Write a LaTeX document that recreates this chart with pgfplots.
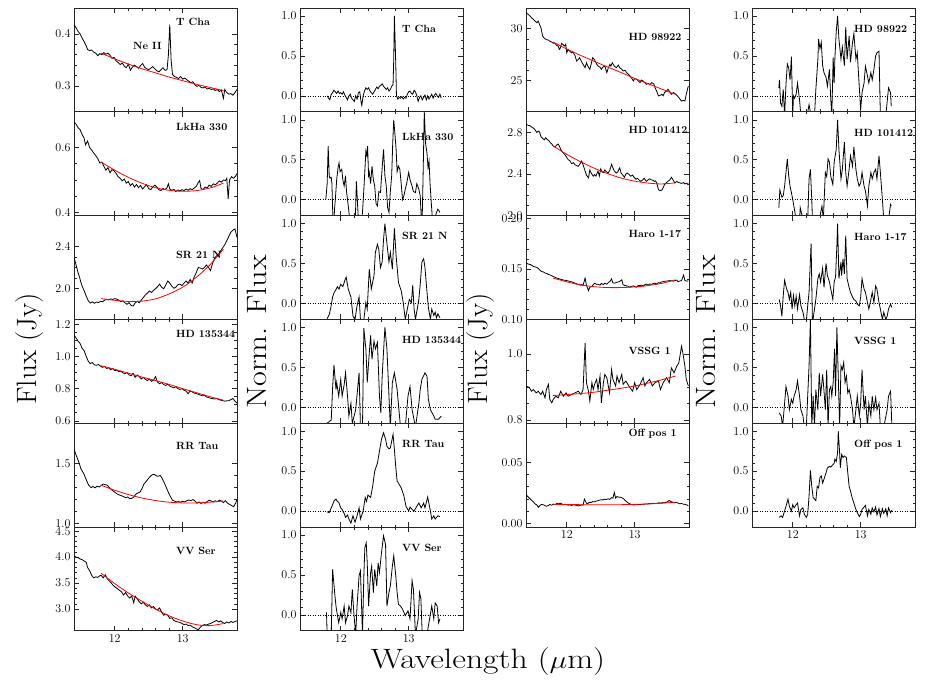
\documentclass[border=0pt]{standalone}
\usepackage{fontspec}
\usepackage{pgfplots}
\pgfplotsset{compat=1.18}
\pgfplotsset{
  panel/.style={
    scale only axis, width=163pt, height=103.8pt, anchor=north west,
    xmin=11.4, xmax=13.8, xtick={12,13}, minor x tick num=4,
    xticklabels={},
    tick align=inside,
    major tick length=5pt, minor tick length=2.5pt,
    axis line style={black!85, line width=0.8pt},
    every tick/.style={black!85, line width=0.55pt},
    tick label style={font=\fontsize{12}{13}\selectfont},
    yticklabel style={/pgf/number format/fixed, /pgf/number format/fixed zerofill, /pgf/number format/precision=1},
    scaled y ticks=false,
  },
  botx/.style={xticklabels={12,13}},
  norm/.style={panel, ymin=-0.2, ymax=1.1, ytick={0,0.5,1}, minor y tick num=4},
  spec/.style={black, line width=0.8pt, mark=none},
  fit/.style={red, line width=0.8pt, mark=none, smooth},
  zero/.style={black, dotted, line width=0.5pt},
}
\tikzset{lab/.style={anchor=west, font=\fontsize{10.5}{11}\selectfont\bfseries, inner sep=0pt}}
\newcommand{\titlefont}{\fontsize{28}{30}\selectfont}
\begin{document}
\begin{tikzpicture}
\path[use as bounding box] (0pt,0pt) rectangle (926pt,-686pt);

% ================= Column 1 =================
\begin{axis}[panel, at={(74pt,-8pt)}, ymin=0.25, ymax=0.45, ytick={0.3,0.4}, minor y tick num=4]
\addplot[spec] coordinates {(11.40,0.418) (11.43,0.412) (11.46,0.405) (11.49,0.400) (11.52,0.392) (11.55,0.385) (11.58,0.377) (11.60,0.370) (11.63,0.368) (11.66,0.369) (11.69,0.365) (11.72,0.363) (11.75,0.358) (11.78,0.362) (11.81,0.360) (11.84,0.364) (11.87,0.361) (11.90,0.363) (11.93,0.359) (11.96,0.353) (11.99,0.355) (12.02,0.348) (12.05,0.345) (12.08,0.341) (12.11,0.344) (12.14,0.338) (12.17,0.335) (12.20,0.342) (12.23,0.330) (12.26,0.336) (12.29,0.340) (12.32,0.337) (12.35,0.334) (12.38,0.339) (12.41,0.343) (12.44,0.336) (12.47,0.333) (12.50,0.331) (12.53,0.334) (12.56,0.337) (12.59,0.333) (12.62,0.329) (12.65,0.327) (12.68,0.331) (12.71,0.335) (12.74,0.330) (12.77,0.331) (12.79,0.360) (12.81,0.418) (12.83,0.350) (12.85,0.322) (12.88,0.318) (12.91,0.316) (12.94,0.314) (12.97,0.318) (13.00,0.313) (13.03,0.315) (13.06,0.312) (13.09,0.309) (13.12,0.306) (13.15,0.308) (13.18,0.302) (13.21,0.299) (13.24,0.301) (13.27,0.297) (13.30,0.296) (13.33,0.298) (13.36,0.294) (13.39,0.295) (13.42,0.293) (13.45,0.294) (13.48,0.291) (13.51,0.293) (13.54,0.289) (13.57,0.292) (13.60,0.276) (13.62,0.293) (13.65,0.287) (13.68,0.284) (13.71,0.285) (13.74,0.282) (13.77,0.287) (13.80,0.293)};
\addplot[fit] coordinates {(11.8,0.363) (12.0,0.352) (12.2,0.342) (12.4,0.333) (12.6,0.325) (12.8,0.317) (13.0,0.310) (13.2,0.303) (13.4,0.297) (13.6,0.291)};
\node[lab] at (rel axis cs:0.626,0.868) {T Cha};
\node[lab, anchor=center] at (axis cs:12.48,0.376) {Ne II};
\end{axis}

\begin{axis}[panel, at={(74pt,-111.8pt)}, ymin=0.39, ymax=0.71, ytick={0.4,0.6}, minor y tick num=3]
\addplot[spec] coordinates {(11.40,0.678) (11.43,0.672) (11.46,0.661) (11.49,0.655) (11.52,0.640) (11.55,0.628) (11.57,0.608) (11.60,0.620) (11.63,0.600) (11.66,0.592) (11.69,0.583) (11.72,0.575) (11.75,0.566) (11.78,0.552) (11.81,0.555) (11.84,0.542) (11.87,0.530) (11.90,0.538) (11.93,0.522) (11.96,0.532) (11.99,0.528) (12.02,0.520) (12.05,0.510) (12.08,0.505) (12.11,0.497) (12.14,0.503) (12.17,0.490) (12.20,0.495) (12.23,0.482) (12.26,0.489) (12.29,0.478) (12.32,0.486) (12.35,0.476) (12.38,0.483) (12.41,0.472) (12.44,0.479) (12.47,0.485) (12.50,0.473) (12.53,0.470) (12.56,0.478) (12.59,0.484) (12.62,0.478) (12.65,0.470) (12.68,0.467) (12.71,0.474) (12.74,0.470) (12.77,0.476) (12.79,0.488) (12.81,0.472) (12.84,0.468) (12.87,0.471) (12.90,0.464) (12.93,0.469) (12.96,0.466) (12.99,0.470) (13.02,0.467) (13.05,0.472) (13.08,0.468) (13.11,0.473) (13.14,0.470) (13.17,0.475) (13.20,0.480) (13.23,0.492) (13.25,0.498) (13.27,0.474) (13.30,0.470) (13.33,0.478) (13.36,0.475) (13.39,0.484) (13.42,0.480) (13.45,0.488) (13.48,0.485) (13.51,0.490) (13.54,0.497) (13.57,0.493) (13.60,0.500) (13.63,0.498) (13.65,0.505) (13.67,0.441) (13.69,0.500) (13.72,0.510) (13.75,0.505) (13.78,0.512) (13.80,0.520)};
\addplot[fit] coordinates {(11.8,0.555) (12.0,0.530) (12.2,0.508) (12.4,0.490) (12.6,0.476) (12.8,0.468) (13.0,0.465) (13.2,0.467) (13.4,0.475) (13.6,0.490)};
\node[lab] at (rel axis cs:0.626,0.855) {LkHa 330};
\end{axis}

\begin{axis}[panel, at={(74pt,-215.6pt)}, ymin=1.7, ymax=2.7, ytick={2.0,2.4}, minor y tick num=3]
\addplot[spec] coordinates {(11.40,2.297) (11.42,2.250) (11.44,2.200) (11.46,2.150) (11.48,2.110) (11.50,2.060) (11.52,2.020) (11.55,1.975) (11.58,1.925) (11.61,1.880) (11.64,1.858) (11.67,1.870) (11.70,1.855) (11.73,1.868) (11.76,1.862) (11.79,1.875) (11.82,1.870) (11.85,1.885) (11.88,1.893) (11.91,1.888) (11.94,1.898) (11.97,1.892) (12.00,1.900) (12.03,1.895) (12.06,1.885) (12.09,1.872) (12.12,1.878) (12.15,1.860) (12.18,1.845) (12.21,1.862) (12.24,1.835) (12.27,1.829) (12.30,1.858) (12.33,1.875) (12.36,1.860) (12.39,1.885) (12.42,1.910) (12.45,1.935) (12.48,1.952) (12.51,1.974) (12.54,1.960) (12.57,1.980) (12.60,1.995) (12.63,2.015) (12.66,2.040) (12.69,2.010) (12.72,1.995) (12.75,2.030) (12.78,2.070) (12.81,2.050) (12.84,2.020) (12.87,2.000) (12.90,2.010) (12.93,2.035) (12.96,2.040) (12.99,2.025) (13.02,2.050) (13.05,2.070) (13.08,2.050) (13.11,2.085) (13.14,2.050) (13.17,2.110) (13.20,2.150) (13.23,2.200) (13.26,2.195) (13.29,2.185) (13.32,2.200) (13.35,2.225) (13.38,2.200) (13.41,2.170) (13.44,2.240) (13.47,2.290) (13.50,2.313) (13.53,2.330) (13.56,2.360) (13.59,2.390) (13.62,2.420) (13.65,2.458) (13.68,2.500) (13.71,2.540) (13.74,2.560) (13.77,2.571) (13.80,2.490)};
\addplot[fit] coordinates {(11.8,1.900) (12.0,1.884) (12.2,1.873) (12.4,1.876) (12.6,1.898) (12.8,1.945) (13.0,2.010) (13.2,2.105) (13.4,2.225) (13.6,2.377)};
\node[lab] at (rel axis cs:0.626,0.626) {SR 21 N};
\end{axis}

\begin{axis}[panel, at={(74pt,-319.4pt)}, ymin=0.585, ymax=1.23, ytick={0.6,0.8,1.0,1.2}, minor y tick num=3]
\addplot[spec] coordinates {(11.40,1.134) (11.43,1.115) (11.46,1.095) (11.49,1.080) (11.52,1.050) (11.55,1.035) (11.58,1.000) (11.61,0.970) (11.64,0.955) (11.67,0.962) (11.70,0.948) (11.73,0.945) (11.76,0.950) (11.79,0.940) (11.82,0.932) (11.85,0.938) (11.88,0.925) (11.91,0.930) (11.94,0.918) (11.97,0.925) (12.00,0.912) (12.03,0.915) (12.06,0.905) (12.09,0.908) (12.12,0.898) (12.15,0.892) (12.18,0.900) (12.21,0.885) (12.24,0.880) (12.27,0.895) (12.30,0.870) (12.33,0.885) (12.36,0.875) (12.39,0.860) (12.42,0.870) (12.45,0.858) (12.48,0.850) (12.51,0.860) (12.54,0.845) (12.57,0.852) (12.60,0.875) (12.63,0.840) (12.66,0.830) (12.69,0.838) (12.72,0.825) (12.75,0.820) (12.78,0.828) (12.81,0.815) (12.84,0.810) (12.87,0.805) (12.90,0.812) (12.93,0.800) (12.96,0.795) (12.99,0.800) (13.02,0.790) (13.05,0.785) (13.08,0.768) (13.11,0.785) (13.14,0.780) (13.17,0.772) (13.20,0.770) (13.23,0.765) (13.26,0.760) (13.29,0.755) (13.32,0.760) (13.35,0.748) (13.38,0.745) (13.41,0.740) (13.44,0.738) (13.47,0.735) (13.50,0.740) (13.53,0.732) (13.56,0.728) (13.59,0.725) (13.62,0.722) (13.65,0.724) (13.68,0.725) (13.71,0.732) (13.74,0.738) (13.77,0.722) (13.80,0.710)};
\addplot[fit] coordinates {(11.8,0.942) (12.0,0.920) (12.2,0.896) (12.4,0.872) (12.6,0.850) (12.8,0.826) (13.0,0.800) (13.2,0.775) (13.4,0.750) (13.6,0.728)};
\node[lab] at (rel axis cs:0.626,0.86) {HD 135344};
\end{axis}

\begin{axis}[panel, at={(74pt,-423.2pt)}, ymin=0.97, ymax=1.84, ytick={1.0,1.5}, minor y tick num=4]
\addplot[spec] coordinates {(11.40,1.626) (11.42,1.590) (11.44,1.560) (11.46,1.530) (11.48,1.500) (11.50,1.460) (11.52,1.440) (11.55,1.410) (11.57,1.380) (11.60,1.340) (11.62,1.318) (11.65,1.300) (11.68,1.310) (11.71,1.298) (11.74,1.312) (11.77,1.305) (11.80,1.318) (11.83,1.330) (11.86,1.325) (11.89,1.320) (11.92,1.300) (11.95,1.285) (11.98,1.270) (12.01,1.258) (12.04,1.245) (12.07,1.238) (12.10,1.232) (12.13,1.225) (12.16,1.215) (12.19,1.222) (12.22,1.208) (12.25,1.210) (12.28,1.222) (12.31,1.245) (12.34,1.255) (12.37,1.262) (12.40,1.290) (12.43,1.330) (12.46,1.350) (12.49,1.372) (12.52,1.392) (12.55,1.408) (12.58,1.412) (12.61,1.400) (12.64,1.395) (12.67,1.402) (12.70,1.375) (12.73,1.340) (12.76,1.300) (12.79,1.260) (12.82,1.225) (12.85,1.195) (12.88,1.187) (12.91,1.180) (12.94,1.183) (12.97,1.178) (13.00,1.186) (13.03,1.180) (13.06,1.190) (13.09,1.196) (13.12,1.190) (13.15,1.200) (13.18,1.188) (13.21,1.170) (13.24,1.180) (13.27,1.168) (13.30,1.175) (13.33,1.170) (13.36,1.182) (13.39,1.195) (13.42,1.188) (13.45,1.180) (13.48,1.190) (13.51,1.182) (13.54,1.195) (13.57,1.188) (13.60,1.175) (13.63,1.190) (13.66,1.170) (13.69,1.160) (13.72,1.150) (13.75,1.140) (13.78,1.170) (13.80,1.200)};
\addplot[fit] coordinates {(11.8,1.320) (12.0,1.278) (12.2,1.242) (12.4,1.213) (12.6,1.192) (12.8,1.178) (13.0,1.172) (13.2,1.172) (13.4,1.178) (13.6,1.188)};
\node[lab] at (rel axis cs:0.626,0.78) {RR Tau};
\end{axis}

\begin{axis}[panel, botx, at={(74pt,-527pt)}, ymin=2.58, ymax=4.58, ytick={3.0,3.5,4.0,4.5}, minor y tick num=4]
\addplot[spec] coordinates {(11.40,4.025) (11.43,4.000) (11.46,3.990) (11.49,3.965) (11.52,3.950) (11.55,3.925) (11.58,3.900) (11.60,3.800) (11.63,3.740) (11.66,3.650) (11.69,3.600) (11.72,3.620) (11.75,3.610) (11.78,3.640) (11.80,3.650) (11.83,3.600) (11.86,3.660) (11.89,3.580) (11.92,3.540) (11.95,3.500) (11.98,3.450) (12.01,3.420) (12.04,3.390) (12.07,3.360) (12.10,3.330) (12.13,3.270) (12.16,3.320) (12.19,3.250) (12.22,3.210) (12.25,3.250) (12.28,3.120) (12.30,3.250) (12.33,3.200) (12.36,3.140) (12.39,3.100) (12.42,3.130) (12.45,3.080) (12.48,3.050) (12.51,3.080) (12.54,3.020) (12.57,3.050) (12.60,3.000) (12.63,2.980) (12.66,3.020) (12.69,2.940) (12.72,2.880) (12.75,2.900) (12.78,2.880) (12.81,2.820) (12.84,2.830) (12.87,2.780) (12.90,2.760) (12.93,2.750) (12.96,2.740) (12.99,2.720) (13.02,2.700) (13.05,2.710) (13.08,2.680) (13.11,2.690) (13.14,2.660) (13.17,2.640) (13.20,2.620) (13.23,2.600) (13.26,2.650) (13.29,2.680) (13.32,2.700) (13.35,2.690) (13.38,2.710) (13.41,2.720) (13.44,2.740) (13.47,2.760) (13.50,2.780) (13.53,2.750) (13.56,2.770) (13.59,2.740) (13.62,2.720) (13.65,2.750) (13.68,2.730) (13.71,2.760) (13.74,2.740) (13.77,2.760) (13.80,2.770)};
\addplot[fit] coordinates {(11.8,3.690) (12.0,3.490) (12.2,3.310) (12.4,3.150) (12.6,3.000) (12.8,2.870) (13.0,2.770) (13.2,2.700) (13.4,2.680) (13.6,2.720)};
\node[lab] at (rel axis cs:0.626,0.769) {VV Ser};
\end{axis}

% ================= Column 2 =================
\begin{axis}[norm, at={(300pt,-8pt)}]
\addplot[zero] coordinates {(11.4,0) (13.8,0)};
\addplot[spec] coordinates {(11.80,0.00) (11.82,-0.03) (11.84,-0.05) (11.86,0.02) (11.88,0.04) (11.90,0.07) (11.92,0.05) (11.94,0.03) (11.96,0.06) (11.98,0.03) (12.00,0.04) (12.02,0.02) (12.04,0.05) (12.06,0.01) (12.08,-0.02) (12.10,-0.05) (12.12,0.00) (12.14,0.02) (12.16,-0.03) (12.18,-0.05) (12.20,-0.07) (12.22,0.00) (12.24,-0.04) (12.26,0.04) (12.28,0.05) (12.30,-0.08) (12.31,-0.12) (12.33,0.00) (12.35,0.06) (12.37,0.10) (12.39,0.08) (12.41,0.10) (12.43,0.06) (12.45,0.04) (12.47,0.02) (12.49,0.05) (12.51,0.08) (12.53,0.11) (12.55,0.09) (12.57,0.12) (12.59,0.13) (12.61,0.15) (12.63,0.12) (12.65,0.10) (12.67,0.08) (12.69,0.10) (12.71,0.06) (12.73,0.08) (12.75,0.12) (12.77,0.14) (12.78,0.45) (12.79,1.00) (12.81,0.40) (12.82,0.00) (12.84,-0.04) (12.86,-0.02) (12.88,-0.03) (12.90,-0.01) (12.92,-0.04) (12.94,-0.02) (12.96,-0.03) (12.98,0.02) (13.00,0.05) (13.02,0.06) (13.04,0.03) (13.06,0.02) (13.08,0.07) (13.10,0.05) (13.12,0.00) (13.14,-0.07) (13.16,-0.02) (13.18,0.00) (13.20,-0.05) (13.22,-0.02) (13.24,0.01) (13.26,-0.05) (13.28,0.00) (13.30,-0.04) (13.32,-0.01) (13.34,0.02) (13.36,-0.03) (13.38,0.01) (13.40,0.03) (13.42,0.00) (13.44,-0.02) (13.46,0.02) (13.48,-0.03)};
\node[lab] at (rel axis cs:0.626,0.80) {T Cha};
\end{axis}

\begin{axis}[norm, at={(300pt,-111.8pt)}]
\addplot[zero] coordinates {(11.4,0) (13.8,0)};
\addplot[spec] coordinates {(11.78,0.00) (11.80,0.20) (11.815,0.67) (11.83,0.30) (11.84,0.27) (11.86,0.28) (11.87,0.20) (11.89,-0.40) (11.91,-0.10) (11.92,0.00) (11.94,0.25) (11.96,0.40) (11.975,0.46) (11.99,0.35) (12.015,0.38) (12.03,0.25) (12.05,0.17) (12.07,0.30) (12.085,0.10) (12.10,0.00) (12.12,-0.15) (12.15,-0.40) (12.18,-0.30) (12.21,-0.40) (12.23,0.23) (12.25,-0.10) (12.27,-0.40) (12.30,-0.35) (12.32,-0.16) (12.345,0.20) (12.37,0.61) (12.385,0.55) (12.395,0.67) (12.41,0.30) (12.42,0.34) (12.44,0.20) (12.46,0.42) (12.48,0.25) (12.50,0.17) (12.52,-0.05) (12.54,-0.08) (12.56,0.10) (12.585,0.09) (12.61,0.40) (12.63,0.63) (12.65,0.30) (12.67,0.17) (12.69,-0.10) (12.71,-0.16) (12.73,0.10) (12.75,0.30) (12.765,0.70) (12.78,1.00) (12.80,0.80) (12.815,0.63) (12.83,0.35) (12.85,0.42) (12.87,0.38) (12.89,0.20) (12.91,0.00) (12.93,0.05) (12.95,0.13) (12.97,0.20) (13.00,0.34) (13.02,0.25) (13.05,0.17) (13.07,0.10) (13.10,0.09) (13.12,0.20) (13.15,0.13) (13.17,0.05) (13.195,-0.40) (13.21,0.20) (13.23,1.10) (13.25,0.70) (13.27,0.58) (13.285,0.40) (13.30,0.48) (13.315,0.20) (13.33,0.00) (13.35,-0.25) (13.37,-0.40) (13.39,-0.22) (13.41,-0.16) (13.43,-0.12) (13.44,-0.13) (13.46,-0.16)};
\node[lab] at (rel axis cs:0.626,0.762) {LkHa 330};
\end{axis}

\begin{axis}[norm, at={(300pt,-215.6pt)}]
\addplot[zero] coordinates {(11.4,0) (13.8,0)};
\addplot[spec] coordinates {(11.80,-0.19) (11.83,-0.14) (11.85,-0.07) (11.88,0.08) (11.90,0.13) (11.92,0.16) (11.94,0.19) (11.95,0.21) (11.975,0.18) (12.00,0.24) (12.02,0.22) (12.03,0.21) (12.05,0.26) (12.06,0.29) (12.08,0.33) (12.11,0.18) (12.15,0.08) (12.18,-0.16) (12.21,-0.20) (12.24,-0.03) (12.27,0.08) (12.29,-0.20) (12.32,-0.25) (12.34,-0.20) (12.37,0.01) (12.39,-0.07) (12.42,0.43) (12.45,0.18) (12.49,0.35) (12.51,0.64) (12.54,0.74) (12.56,0.68) (12.585,0.45) (12.61,0.52) (12.63,0.80) (12.65,1.00) (12.68,0.75) (12.71,0.52) (12.73,0.64) (12.76,0.43) (12.79,0.94) (12.815,0.60) (12.85,0.26) (12.89,0.16) (12.92,0.01) (12.95,-0.20) (12.99,-0.03) (13.01,0.05) (13.04,0.01) (13.06,0.23) (13.08,-0.07) (13.10,-0.20) (13.13,-0.05) (13.15,0.05) (13.17,0.24) (13.195,0.52) (13.22,0.56) (13.24,0.45) (13.27,0.14) (13.29,-0.05) (13.32,-0.20) (13.34,-0.07) (13.37,-0.15) (13.39,-0.11) (13.41,-0.18) (13.43,-0.13) (13.46,-0.18)};
\node[lab] at (rel axis cs:0.626,0.80) {SR 21 N};
\end{axis}

\begin{axis}[norm, at={(300pt,-319.4pt)}]
\addplot[zero] coordinates {(11.4,0) (13.8,0)};
\addplot[spec] coordinates {(11.80,-0.20) (11.86,-0.16) (11.88,0.24) (11.90,0.53) (11.93,0.22) (11.94,0.31) (11.97,0.14) (12.00,0.35) (12.02,0.14) (12.05,0.28) (12.07,0.43) (12.10,0.14) (12.12,-0.11) (12.15,0.05) (12.17,-0.20) (12.22,-0.03) (12.27,0.43) (12.29,-0.25) (12.32,-0.25) (12.34,0.99) (12.37,0.73) (12.39,0.31) (12.42,0.68) (12.44,0.90) (12.46,0.60) (12.49,0.83) (12.51,0.73) (12.54,0.81) (12.57,0.14) (12.59,-0.07) (12.61,0.39) (12.65,1.00) (12.68,0.73) (12.71,0.14) (12.73,-0.25) (12.76,0.31) (12.79,0.43) (12.83,0.22) (12.88,-0.25) (12.95,-0.25) (12.99,0.14) (13.02,0.26) (13.05,-0.03) (13.10,-0.25) (13.15,0.05) (13.17,0.22) (13.195,0.35) (13.24,0.43) (13.27,0.39) (13.29,0.10) (13.32,-0.03) (13.37,-0.11) (13.39,-0.15) (13.44,-0.15) (13.48,-0.11)};
\node[lab] at (rel axis cs:0.626,0.80) {HD 135344};
\end{axis}

\begin{axis}[norm, at={(300pt,-423.2pt)}]
\addplot[zero] coordinates {(11.4,0) (13.8,0)};
\addplot[spec] coordinates {(11.80,-0.01) (11.83,-0.02) (11.85,0.02) (11.88,0.08) (11.90,0.125) (11.93,0.15) (11.95,0.12) (11.97,0.11) (12.00,0.04) (12.02,0.02) (12.05,-0.03) (12.07,-0.08) (12.10,-0.05) (12.12,-0.10) (12.15,-0.15) (12.18,-0.06) (12.21,-0.14) (12.24,-0.06) (12.27,0.04) (12.29,-0.10) (12.33,0.00) (12.36,0.17) (12.38,0.12) (12.40,0.20) (12.44,0.17) (12.47,0.31) (12.50,0.50) (12.54,0.60) (12.57,0.75) (12.60,0.90) (12.63,0.98) (12.66,0.90) (12.68,0.81) (12.71,0.78) (12.73,0.79) (12.77,0.96) (12.79,0.77) (12.81,0.55) (12.83,0.375) (12.85,0.35) (12.89,0.29) (12.93,0.19) (12.96,0.06) (13.00,0.00) (13.02,0.05) (13.05,0.02) (13.08,0.00) (13.12,0.06) (13.15,0.10) (13.185,0.04) (13.22,0.10) (13.24,0.04) (13.28,0.175) (13.32,0.00) (13.34,-0.10) (13.37,-0.06) (13.39,-0.10) (13.43,-0.06) (13.46,-0.07)};
\node[lab] at (rel axis cs:0.626,0.80) {RR Tau};
\end{axis}

\begin{axis}[norm, botx, at={(300pt,-527pt)}]
\addplot[zero] coordinates {(11.4,0) (13.8,0)};
\addplot[spec] coordinates {(11.79,0.03) (11.80,-0.25) (11.86,-0.25) (11.88,0.57) (11.91,0.28) (11.93,0.11) (11.94,0.05) (11.97,-0.10) (12.00,0.03) (12.02,-0.05) (12.05,0.11) (12.07,-0.10) (12.10,-0.01) (12.12,0.11) (12.15,0.03) (12.17,0.32) (12.195,0.00) (12.22,-0.25) (12.24,0.11) (12.27,0.49) (12.29,0.55) (12.32,-0.25) (12.34,0.49) (12.355,0.84) (12.375,0.90) (12.39,0.65) (12.41,0.11) (12.44,0.53) (12.455,0.61) (12.48,0.28) (12.50,0.57) (12.53,0.36) (12.55,0.65) (12.57,0.53) (12.60,0.78) (12.63,0.99) (12.66,0.88) (12.68,0.11) (12.71,0.28) (12.73,0.36) (12.76,0.61) (12.78,0.74) (12.81,0.49) (12.83,0.28) (12.85,0.13) (12.88,0.11) (12.91,0.07) (12.95,-0.01) (12.99,0.05) (13.02,-0.05) (13.05,0.43) (13.07,0.32) (13.10,-0.25) (13.14,-0.05) (13.16,0.28) (13.18,0.20) (13.20,-0.25) (13.27,-0.25) (13.29,-0.14) (13.34,0.11) (13.37,-0.05) (13.39,0.15) (13.42,0.11) (13.44,-0.10) (13.46,-0.05)};
\node[lab] at (rel axis cs:0.626,0.80) {VV Ser};
\end{axis}

% ================= Column 3 =================
\begin{axis}[panel, at={(526pt,-8pt)}, ymin=22, ymax=32, ytick={25,30}, minor y tick num=4, yticklabel style={/pgf/number format/precision=0}]
\addplot[spec] coordinates {(11.40,31.54) (11.43,31.40) (11.46,31.22) (11.49,31.00) (11.51,30.90) (11.54,30.70) (11.56,30.58) (11.58,30.74) (11.60,30.40) (11.62,30.10) (11.645,29.30) (11.66,29.15) (11.68,29.04) (11.70,28.95) (11.73,28.91) (11.75,28.80) (11.78,28.72) (11.80,28.62) (11.83,28.59) (11.85,28.40) (11.875,28.33) (11.89,28.01) (11.90,28.05) (11.925,28.59) (11.95,28.45) (11.97,28.33) (11.985,28.50) (12.00,27.69) (12.02,28.01) (12.05,27.80) (12.07,27.69) (12.09,27.75) (12.12,27.44) (12.145,26.89) (12.17,27.05) (12.19,27.21) (12.22,26.80) (12.24,26.57) (12.27,26.25) (12.29,26.73) (12.31,26.40) (12.34,26.09) (12.36,26.60) (12.38,27.21) (12.40,27.10) (12.41,26.99) (12.44,26.60) (12.46,26.41) (12.49,26.30) (12.51,26.09) (12.53,26.30) (12.56,26.41) (12.59,25.77) (12.61,26.20) (12.635,26.57) (12.65,26.40) (12.67,26.73) (12.70,26.40) (12.73,26.25) (12.76,26.50) (12.78,26.25) (12.81,26.10) (12.83,25.93) (12.86,26.00) (12.88,25.77) (12.91,25.60) (12.93,25.45) (12.96,25.20) (12.98,24.97) (13.00,25.20) (13.03,25.13) (13.05,25.00) (13.08,24.81) (13.10,25.05) (13.125,24.97) (13.15,24.80) (13.175,24.65) (13.20,24.75) (13.225,24.60) (13.25,24.81) (13.28,24.70) (13.30,24.33) (13.33,23.90) (13.35,23.53) (13.38,23.60) (13.40,23.69) (13.42,23.55) (13.44,23.85) (13.47,24.00) (13.49,24.17) (13.52,23.90) (13.54,23.69) (13.57,23.85) (13.59,23.77) (13.62,23.60) (13.64,23.45) (13.67,23.20) (13.69,23.04) (13.72,23.10) (13.74,23.04) (13.76,23.69) (13.79,24.49)};
\addplot[fit] coordinates {(11.8,28.72) (12.0,28.05) (12.2,27.45) (12.4,26.88) (12.6,26.32) (12.8,25.78) (13.0,25.22) (13.2,24.70) (13.4,24.18) (13.6,23.68)};
\node[lab] at (rel axis cs:0.628,0.724) {HD 98922};
\end{axis}

\begin{axis}[panel, at={(526pt,-111.8pt)}, ymin=2.0, ymax=3.0, ytick={2.0,2.4,2.8}, minor y tick num=3]
\addplot[spec] coordinates {(11.40,2.881) (11.43,2.870) (11.46,2.865) (11.49,2.850) (11.52,2.838) (11.54,2.820) (11.56,2.800) (11.58,2.815) (11.60,2.805) (11.62,2.760) (11.65,2.740) (11.67,2.730) (11.69,2.750) (11.71,2.735) (11.74,2.720) (11.76,2.700) (11.78,2.690) (11.80,2.671) (11.83,2.660) (11.85,2.680) (11.875,2.690) (11.89,2.671) (11.91,2.640) (11.94,2.610) (11.97,2.590) (12.00,2.560) (12.02,2.540) (12.05,2.526) (12.07,2.500) (12.10,2.510) (12.12,2.490) (12.15,2.480) (12.17,2.475) (12.20,2.505) (12.22,2.526) (12.245,2.480) (12.27,2.430) (12.29,2.390) (12.32,2.364) (12.34,2.440) (12.36,2.410) (12.39,2.380) (12.41,2.395) (12.43,2.380) (12.46,2.430) (12.48,2.380) (12.50,2.450) (12.52,2.420) (12.54,2.415) (12.56,2.440) (12.58,2.425) (12.61,2.410) (12.635,2.440) (12.66,2.494) (12.68,2.460) (12.70,2.430) (12.73,2.410) (12.75,2.420) (12.78,2.460) (12.80,2.410) (12.82,2.395) (12.85,2.370) (12.87,2.400) (12.89,2.410) (12.92,2.395) (12.94,2.380) (12.97,2.390) (12.99,2.370) (13.02,2.350) (13.04,2.360) (13.07,2.340) (13.09,2.330) (13.12,2.345) (13.14,2.360) (13.17,2.330) (13.19,2.340) (13.22,2.355) (13.24,2.345) (13.27,2.340) (13.29,2.330) (13.31,2.335) (13.33,2.300) (13.35,2.252) (13.37,2.240) (13.40,2.245) (13.42,2.270) (13.44,2.300) (13.47,2.320) (13.49,2.330) (13.52,2.345) (13.54,2.370) (13.57,2.340) (13.59,2.315) (13.62,2.330) (13.64,2.320) (13.67,2.315) (13.69,2.310) (13.72,2.318) (13.74,2.305) (13.77,2.312) (13.79,2.310)};
\addplot[fit] coordinates {(11.8,2.672) (12.0,2.590) (12.2,2.520) (12.4,2.458) (12.6,2.405) (12.8,2.362) (13.0,2.332) (13.2,2.313) (13.4,2.305) (13.6,2.316)};
\node[lab] at (rel axis cs:0.628,0.822) {HD 101412};
\end{axis}

\begin{axis}[panel, at={(526pt,-215.6pt)}, ymin=0.10, ymax=0.203, ytick={0.10,0.15,0.20}, minor y tick num=4, yticklabel style={/pgf/number format/precision=2}]
\addplot[spec] coordinates {(11.40,0.1560) (11.43,0.1550) (11.46,0.1545) (11.49,0.1535) (11.51,0.1525) (11.54,0.1520) (11.56,0.1515) (11.59,0.1500) (11.61,0.1485) (11.63,0.1475) (11.66,0.1470) (11.68,0.1460) (11.71,0.1455) (11.73,0.1445) (11.76,0.1440) (11.78,0.1433) (11.80,0.1425) (11.83,0.1418) (11.85,0.1410) (11.88,0.1405) (11.90,0.1400) (11.93,0.1395) (11.95,0.1390) (11.98,0.1388) (12.00,0.1385) (12.03,0.1380) (12.05,0.1375) (12.08,0.1372) (12.10,0.1365) (12.12,0.1360) (12.15,0.1352) (12.17,0.1348) (12.20,0.1340) (12.22,0.1345) (12.24,0.1338) (12.27,0.1410) (12.29,0.1340) (12.32,0.1285) (12.34,0.1320) (12.37,0.1327) (12.39,0.1345) (12.41,0.1360) (12.44,0.1348) (12.46,0.1350) (12.49,0.1340) (12.51,0.1357) (12.54,0.1345) (12.56,0.1360) (12.59,0.1350) (12.61,0.1365) (12.64,0.1380) (12.66,0.1403) (12.68,0.1362) (12.71,0.1360) (12.73,0.1367) (12.76,0.1372) (12.78,0.1377) (12.81,0.1393) (12.83,0.1343) (12.85,0.1338) (12.88,0.1333) (12.90,0.1330) (12.93,0.1320) (12.95,0.1328) (12.98,0.1333) (13.00,0.1325) (13.03,0.1320) (13.05,0.1335) (13.08,0.1335) (13.10,0.1340) (13.13,0.1332) (13.15,0.1345) (13.17,0.1350) (13.20,0.1340) (13.22,0.1352) (13.25,0.1348) (13.27,0.1355) (13.30,0.1360) (13.32,0.1350) (13.35,0.1365) (13.37,0.1360) (13.39,0.1370) (13.42,0.1375) (13.44,0.1378) (13.47,0.1380) (13.49,0.1382) (13.52,0.1385) (13.54,0.1383) (13.57,0.1380) (13.59,0.1385) (13.62,0.1390) (13.64,0.1375) (13.67,0.1382) (13.69,0.1385) (13.72,0.1440) (13.74,0.1385) (13.77,0.1380) (13.79,0.1383)};
\addplot[fit] coordinates {(11.8,0.1410) (12.0,0.1373) (12.2,0.1343) (12.4,0.1325) (12.6,0.1316) (12.8,0.1316) (13.0,0.1322) (13.2,0.1336) (13.4,0.1358) (13.6,0.1393)};
\node[lab] at (rel axis cs:0.628,0.822) {Haro 1-17};
\end{axis}

\begin{axis}[panel, at={(526pt,-319.4pt)}, ymin=0.79, ymax=1.105, ytick={0.8,1.0}, minor y tick num=3]
\addplot[spec] coordinates {(11.40,0.903) (11.45,0.898) (11.48,0.887) (11.51,0.892) (11.55,0.882) (11.58,0.887) (11.62,0.877) (11.645,0.887) (11.68,0.867) (11.70,0.892) (11.73,0.908) (11.75,0.862) (11.78,0.852) (11.80,0.862) (11.84,0.872) (11.875,0.867) (11.91,0.887) (11.95,0.872) (11.99,0.882) (12.02,0.872) (12.07,0.877) (12.12,0.882) (12.17,0.887) (12.21,0.877) (12.24,0.892) (12.27,1.033) (12.29,0.913) (12.32,0.887) (12.34,0.857) (12.37,0.913) (12.39,0.892) (12.41,0.908) (12.44,0.923) (12.46,0.892) (12.49,0.933) (12.51,0.852) (12.54,0.913) (12.56,0.938) (12.59,0.928) (12.63,0.882) (12.66,0.953) (12.68,0.923) (12.72,0.903) (12.74,0.933) (12.77,0.913) (12.81,0.938) (12.83,0.908) (12.87,0.918) (12.90,0.908) (12.93,0.898) (12.97,0.887) (13.00,0.913) (13.03,0.892) (13.08,0.908) (13.125,0.928) (13.15,0.903) (13.175,0.913) (13.22,0.923) (13.26,0.903) (13.30,0.913) (13.35,0.918) (13.38,0.892) (13.42,0.913) (13.47,0.928) (13.51,0.913) (13.54,0.958) (13.58,0.943) (13.62,0.963) (13.65,0.973) (13.69,1.023) (13.71,1.003) (13.74,0.963) (13.76,0.923) (13.79,0.903)};
\addplot[fit] coordinates {(11.8,0.874) (12.0,0.877) (12.2,0.880) (12.4,0.884) (12.6,0.890) (12.8,0.896) (13.0,0.903) (13.2,0.912) (13.4,0.922) (13.6,0.933)};
\node[lab] at (rel axis cs:0.628,0.692) {VSSG 1};
\end{axis}

\begin{axis}[panel, botx, at={(526pt,-423.2pt)}, ymin=-0.003, ymax=0.082, ytick={0,0.05}, minor y tick num=4, yticklabel style={/pgf/number format/precision=2}]
\addplot[spec] coordinates {(11.40,0.0234) (11.45,0.0206) (11.48,0.0190) (11.51,0.0176) (11.53,0.0160) (11.56,0.0151) (11.58,0.0132) (11.61,0.0148) (11.63,0.0155) (11.66,0.0151) (11.68,0.0145) (11.70,0.0140) (11.73,0.0146) (11.75,0.0154) (11.78,0.0148) (11.80,0.0158) (11.83,0.0154) (11.85,0.0162) (11.88,0.0160) (11.90,0.0165) (11.93,0.0159) (11.95,0.0152) (11.97,0.0156) (12.00,0.0154) (12.02,0.0149) (12.05,0.0151) (12.07,0.0146) (12.10,0.0153) (12.12,0.0150) (12.14,0.0148) (12.17,0.0143) (12.19,0.0146) (12.22,0.0151) (12.24,0.0149) (12.26,0.0198) (12.29,0.0165) (12.31,0.0162) (12.33,0.0172) (12.36,0.0170) (12.38,0.0178) (12.41,0.0176) (12.43,0.0182) (12.46,0.0185) (12.48,0.0190) (12.51,0.0193) (12.53,0.0192) (12.56,0.0198) (12.58,0.0195) (12.61,0.0201) (12.63,0.0196) (12.66,0.0210) (12.68,0.0206) (12.70,0.0253) (12.72,0.0206) (12.74,0.0220) (12.76,0.0215) (12.79,0.0214) (12.81,0.0210) (12.84,0.0200) (12.86,0.0187) (12.89,0.0173) (12.91,0.0165) (12.94,0.0157) (12.96,0.0152) (12.99,0.0151) (13.01,0.0153) (13.04,0.0152) (13.06,0.0155) (13.09,0.0153) (13.11,0.0157) (13.14,0.0156) (13.16,0.0159) (13.19,0.0158) (13.21,0.0162) (13.24,0.0160) (13.26,0.0163) (13.29,0.0165) (13.31,0.0162) (13.34,0.0166) (13.36,0.0168) (13.39,0.0165) (13.41,0.0170) (13.44,0.0168) (13.46,0.0172) (13.48,0.0176) (13.51,0.0187) (13.53,0.0180) (13.56,0.0173) (13.59,0.0168) (13.61,0.0172) (13.64,0.0166) (13.66,0.0160) (13.69,0.0163) (13.71,0.0158) (13.74,0.0155) (13.77,0.0151) (13.79,0.0143)};
\addplot[fit] coordinates {(11.8,0.0155) (12.0,0.0154) (12.2,0.0153) (12.4,0.0152) (12.6,0.0152) (12.8,0.0153) (13.0,0.0155) (13.2,0.0159) (13.4,0.0165) (13.6,0.0173)};
\node[lab] at (rel axis cs:0.628,0.897) {Off pos 1};
\end{axis}

% ================= Column 4 =================
\begin{axis}[norm, at={(752pt,-8pt)}]
\addplot[zero] coordinates {(11.4,0) (13.8,0)};
\addplot[spec] coordinates {(11.795,0.10) (11.805,0.20) (11.82,-0.09) (11.84,-0.13) (11.86,0.08) (11.88,-0.25) (11.90,0.14) (11.92,0.40) (11.94,0.35) (11.96,0.20) (11.98,0.49) (12.00,-0.25) (12.01,0.00) (12.025,-0.03) (12.05,0.02) (12.07,0.16) (12.10,-0.05) (12.12,-0.25) (12.20,-0.30) (12.24,-0.11) (12.27,-0.25) (12.32,-0.25) (12.34,0.08) (12.37,0.46) (12.38,0.71) (12.40,0.59) (12.42,0.67) (12.44,0.38) (12.46,0.29) (12.49,0.23) (12.51,0.12) (12.54,0.33) (12.56,-0.05) (12.575,-0.25) (12.595,0.48) (12.61,0.16) (12.62,0.46) (12.64,0.80) (12.66,1.00) (12.68,0.71) (12.71,0.46) (12.73,0.61) (12.76,0.38) (12.78,0.86) (12.80,0.46) (12.83,0.75) (12.85,0.42) (12.88,0.67) (12.90,0.78) (12.93,0.46) (12.95,0.54) (12.976,0.16) (13.00,-0.17) (13.02,0.04) (13.05,0.16) (13.07,0.37) (13.10,0.25) (13.12,0.16) (13.15,0.29) (13.17,0.20) (13.195,0.33) (13.22,0.50) (13.24,0.54) (13.27,0.56) (13.29,-0.25) (13.37,-0.25) (13.41,0.10) (13.44,0.04) (13.45,-0.13)};
\node[lab] at (rel axis cs:0.626,0.795) {HD 98922};
\end{axis}

\begin{axis}[norm, at={(752pt,-111.8pt)}]
\addplot[zero] coordinates {(11.4,0) (13.8,0)};
\addplot[spec] coordinates {(11.795,-0.10) (11.81,0.12) (11.84,0.03) (11.86,0.05) (11.88,0.17) (11.90,0.34) (11.92,0.51) (11.94,0.30) (11.96,0.17) (11.98,0.09) (12.00,0.00) (12.02,-0.10) (12.05,-0.25) (12.10,-0.25) (12.11,-0.10) (12.15,-0.25) (12.22,-0.25) (12.24,0.26) (12.26,0.38) (12.28,0.00) (12.29,-0.25) (12.39,-0.25) (12.43,-0.08) (12.45,-0.25) (12.48,0.34) (12.50,0.29) (12.52,0.51) (12.54,0.47) (12.56,0.29) (12.59,0.19) (12.61,0.47) (12.64,0.63) (12.66,1.00) (12.68,0.63) (12.71,0.26) (12.73,0.38) (12.76,0.72) (12.78,0.34) (12.80,0.17) (12.83,0.38) (12.85,0.55) (12.88,0.42) (12.90,0.66) (12.93,0.38) (12.95,0.26) (12.976,0.17) (13.00,0.21) (13.02,0.34) (13.05,0.17) (13.07,0.11) (13.10,-0.08) (13.12,0.17) (13.15,0.34) (13.17,0.26) (13.195,0.34) (13.22,0.38) (13.24,0.26) (13.27,0.55) (13.29,0.34) (13.32,0.00) (13.34,-0.25) (13.41,-0.25) (13.44,-0.06) (13.45,-0.08)};
\node[lab] at (rel axis cs:0.626,0.795) {HD 101412};
\end{axis}

\begin{axis}[norm, at={(752pt,-215.6pt)}]
\addplot[zero] coordinates {(11.4,0) (13.8,0)};
\addplot[spec] coordinates {(11.80,0.05) (11.82,-0.03) (11.84,-0.16) (11.86,0.10) (11.88,0.29) (11.91,0.18) (11.93,0.14) (11.95,0.05) (11.97,0.14) (11.99,-0.07) (12.01,0.10) (12.03,-0.03) (12.05,0.09) (12.07,-0.07) (12.10,0.11) (12.12,-0.03) (12.15,-0.11) (12.17,-0.20) (12.20,-0.22) (12.22,-0.03) (12.24,0.14) (12.27,0.75) (12.29,-0.25) (12.32,-0.07) (12.34,0.05) (12.37,0.31) (12.39,0.37) (12.41,0.27) (12.44,0.44) (12.46,0.20) (12.49,0.50) (12.51,0.35) (12.54,0.27) (12.56,0.18) (12.59,0.05) (12.61,0.27) (12.63,0.33) (12.65,0.73) (12.66,1.00) (12.68,0.31) (12.71,0.52) (12.72,0.35) (12.74,0.56) (12.76,0.37) (12.78,0.85) (12.80,0.31) (12.83,0.20) (12.85,0.14) (12.88,0.08) (12.90,0.05) (12.93,0.03) (12.95,-0.01) (12.98,-0.03) (13.00,0.08) (13.02,0.31) (13.05,0.18) (13.07,0.14) (13.10,0.01) (13.12,-0.07) (13.15,0.05) (13.17,0.14) (13.195,0.01) (13.22,0.22) (13.24,0.18) (13.27,0.01) (13.29,-0.07) (13.32,-0.20) (13.34,-0.11) (13.37,-0.20) (13.39,-0.16) (13.41,-0.07) (13.44,-0.01) (13.46,-0.05)};
\node[lab] at (rel axis cs:0.626,0.795) {Haro 1-17};
\end{axis}

\begin{axis}[norm, at={(752pt,-319.4pt)}]
\addplot[zero] coordinates {(11.4,0) (13.8,0)};
\addplot[spec] coordinates {(11.80,-0.07) (11.83,-0.11) (11.85,-0.25) (11.88,0.05) (11.90,0.26) (11.93,0.14) (11.95,-0.03) (11.98,0.10) (12.00,0.05) (12.02,0.14) (12.05,0.22) (12.07,0.33) (12.10,0.14) (12.12,-0.03) (12.15,-0.11) (12.17,-0.25) (12.20,-0.25) (12.22,0.14) (12.24,0.52) (12.26,1.10) (12.28,-0.25) (12.30,0.14) (12.32,-0.25) (12.34,0.22) (12.37,-0.03) (12.39,0.43) (12.41,0.14) (12.44,0.41) (12.455,0.26) (12.48,-0.03) (12.50,0.47) (12.52,-0.25) (12.54,0.22) (12.56,0.26) (12.575,0.14) (12.595,0.31) (12.615,0.73) (12.63,0.14) (12.65,1.00) (12.67,0.39) (12.69,-0.25) (12.71,0.52) (12.73,0.47) (12.75,0.56) (12.77,0.31) (12.79,0.39) (12.81,0.18) (12.83,0.22) (12.85,0.14) (12.88,-0.03) (12.90,-0.25) (12.93,-0.03) (12.95,0.14) (12.98,-0.11) (13.00,0.05) (13.02,0.47) (13.05,-0.03) (13.07,0.14) (13.10,-0.25) (13.12,0.05) (13.15,-0.11) (13.17,0.14) (13.195,-0.03) (13.22,0.12) (13.24,-0.03) (13.27,0.05) (13.29,-0.25) (13.34,-0.25) (13.39,-0.03) (13.41,0.14) (13.44,0.20) (13.46,-0.25)};
\node[lab] at (rel axis cs:0.626,0.795) {VSSG 1};
\end{axis}

\begin{axis}[norm, botx, at={(752pt,-423.2pt)}]
\addplot[zero] coordinates {(11.4,0) (13.8,0)};
\addplot[spec] coordinates {(11.80,-0.08) (11.83,-0.06) (11.85,-0.08) (11.88,0.00) (11.90,0.06) (11.93,0.15) (11.95,0.06) (11.98,0.00) (12.00,0.08) (12.02,0.04) (12.05,0.08) (12.07,0.10) (12.10,-0.06) (12.12,0.02) (12.15,0.04) (12.17,-0.04) (12.20,-0.08) (12.22,-0.04) (12.24,0.19) (12.26,0.51) (12.28,0.31) (12.30,0.17) (12.32,0.15) (12.34,0.13) (12.36,0.31) (12.38,0.29) (12.40,0.42) (12.42,0.44) (12.44,0.35) (12.46,0.40) (12.49,0.48) (12.51,0.54) (12.54,0.56) (12.56,0.55) (12.59,0.58) (12.61,0.60) (12.62,0.65) (12.64,0.62) (12.66,0.73) (12.67,1.00) (12.69,0.73) (12.70,0.54) (12.72,0.71) (12.74,0.67) (12.76,0.69) (12.79,0.67) (12.81,0.48) (12.83,0.31) (12.85,0.25) (12.88,0.15) (12.90,0.10) (12.93,0.02) (12.95,-0.02) (12.98,-0.07) (13.00,-0.04) (13.02,0.02) (13.05,0.05) (13.07,0.07) (13.10,-0.06) (13.12,0.02) (13.15,-0.04) (13.17,0.04) (13.195,-0.01) (13.22,0.05) (13.24,-0.05) (13.27,0.03) (13.29,-0.07) (13.32,0.03) (13.34,-0.03) (13.37,0.03) (13.39,-0.06) (13.41,0.04) (13.44,-0.02) (13.46,0.01)};
\node[lab] at (rel axis cs:0.626,0.795) {Off pos 1};
\end{axis}

% ================= Axis titles =================
\node[rotate=90, font=\titlefont] at (30pt,-349pt) {\scalebox{1.04}[1]{Flux (Jy)}};
\node[rotate=90, font=\titlefont] at (257pt,-332pt) {\scalebox{1.15}[1]{Norm. Flux}};
\node[rotate=90, font=\titlefont] at (481pt,-349pt) {\scalebox{1.04}[1]{Flux (Jy)}};
\node[rotate=90, font=\titlefont] at (706pt,-332pt) {\scalebox{1.15}[1]{Norm. Flux}};
\node[font=\titlefont] at (488pt,-662pt) {\scalebox{1.2}[1]{Wavelength ($\mu$m)}};
\end{tikzpicture}
\end{document}
